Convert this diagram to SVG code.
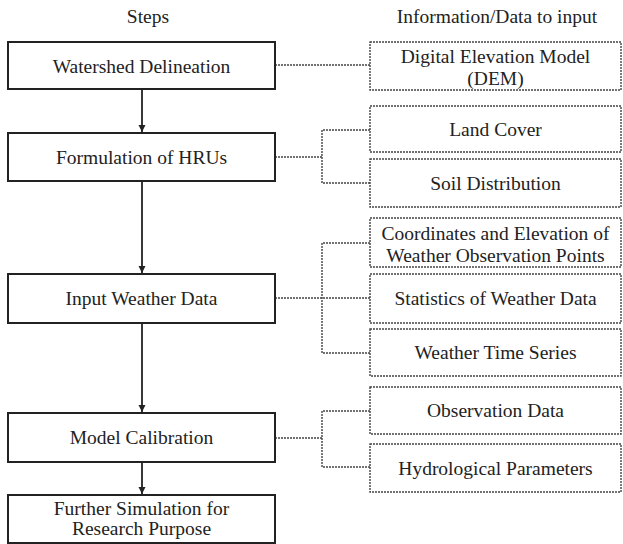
<svg xmlns="http://www.w3.org/2000/svg" width="623" height="544" viewBox="0 0 623 544">
<style>
text{font-family:'Liberation Serif','Times New Roman',serif;font-size:19.5px;fill:#222;text-anchor:middle}
.step{fill:#fff;stroke:#222;stroke-width:2}
.info{fill:#fff;stroke:#444;stroke-width:1.4;stroke-dasharray:2 1}
.dot{fill:none;stroke:#444;stroke-width:1.4;stroke-dasharray:2 1}
.arr{stroke:#222;stroke-width:1.8;fill:none;marker-end:url(#ah)}
</style>
<defs>
<marker id="ah" markerWidth="8" markerHeight="8" refX="7" refY="4" orient="auto" markerUnits="userSpaceOnUse">
<path d="M0,0.5 L7,4 L0,7.5 Z" fill="#222"/>
</marker>
</defs>
<rect width="623" height="544" fill="#fff"/>
<text x="148" y="23">Steps</text>
<text x="497" y="23">Information/Data to input</text>

<g id="connectors">
<line class="arr" x1="142" y1="90" x2="142" y2="132"/>
<line class="arr" x1="142" y1="182" x2="142" y2="273"/>
<line class="arr" x1="142" y1="324" x2="142" y2="412"/>
<line class="arr" x1="142" y1="463" x2="142" y2="494"/>
<path class="dot" d="M275,65 H370"/>
<path class="dot" d="M275,157 H322 M370,130 H322 V183 H370"/>
<path class="dot" d="M275,298 H370 M370,243 H322 V353 H370"/>
<path class="dot" d="M275,438 H322 M370,411 H322 V467 H370"/>
</g>

<g id="step1"><rect class="step" x="8" y="42" width="267" height="47"/><text x="141.5" y="72.5">Watershed Delineation</text></g>
<g id="step2"><rect class="step" x="8" y="133" width="267" height="48"/><text x="141.5" y="164">Formulation of HRUs</text></g>
<g id="step3"><rect class="step" x="8" y="274" width="267" height="49"/><text x="141.5" y="305">Input Weather Data</text></g>
<g id="step4"><rect class="step" x="8" y="413" width="267" height="49"/><text x="141.5" y="444">Model Calibration</text></g>
<g id="step5"><rect class="step" x="8" y="495" width="267" height="48"/><text x="141.5" y="515">Further Simulation for</text><text x="141.5" y="535">Research Purpose</text></g>

<g id="dem"><rect class="info" x="370" y="42" width="251" height="48"/><text x="495.5" y="63">Digital Elevation Model</text><text x="495.5" y="85">(DEM)</text></g>
<g id="landcover"><rect class="info" x="370" y="106" width="251" height="46"/><text x="495.5" y="136">Land Cover</text></g>
<g id="soil"><rect class="info" x="370" y="159" width="251" height="48"/><text x="495.5" y="190">Soil Distribution</text></g>
<g id="coords"><rect class="info" x="370" y="218" width="251" height="49"/><text x="495.5" y="240">Coordinates and Elevation of</text><text x="495.5" y="262">Weather Observation Points</text></g>
<g id="stats"><rect class="info" x="370" y="274" width="251" height="49"/><text x="495.5" y="305">Statistics of Weather Data</text></g>
<g id="timeseries"><rect class="info" x="370" y="329" width="251" height="47"/><text x="495.5" y="359">Weather Time Series</text></g>
<g id="obs"><rect class="info" x="370" y="387" width="251" height="47"/><text x="495.5" y="417">Observation Data</text></g>
<g id="hydro"><rect class="info" x="370" y="444" width="251" height="48"/><text x="495.5" y="475">Hydrological Parameters</text></g>
</svg>
